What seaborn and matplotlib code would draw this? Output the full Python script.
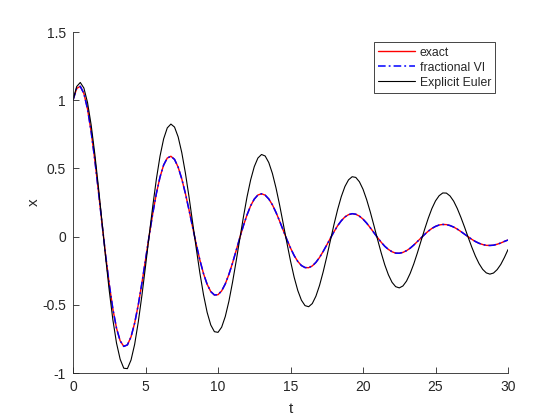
import numpy as np
import pandas as pd
import seaborn as sns
import matplotlib
matplotlib.use("Agg")
import matplotlib.pyplot as plt

# time grid, step 0.25 from 0 to 30
t = np.linspace(0, 30, 121)

# values
exact = [1.000, 1.086, 1.102, 1.049, 0.935, 0.769, 0.564, 0.334,
         0.095, -0.138, -0.351, -0.532, -0.672, -0.764, -0.805, -0.794,
         -0.735, -0.634, -0.500, -0.341, -0.169, 0.005, 0.170, 0.317,
         0.437, 0.525, 0.576, 0.589, 0.566, 0.509, 0.423, 0.316,
         0.195, 0.068, -0.057, -0.173, -0.272, -0.350, -0.403, -0.428,
         -0.426, -0.398, -0.347, -0.277, -0.194, -0.102, -0.009, 0.080,
         0.159, 0.226, 0.275, 0.305, 0.314, 0.304, 0.276, 0.233,
         0.177, 0.113, 0.045, -0.022, -0.084, -0.139, -0.182, -0.212,
         -0.227, -0.228, -0.215, -0.189, -0.153, -0.109, -0.061, -0.012,
         0.036, 0.080, 0.116, 0.144, 0.161, 0.168, 0.164, 0.150,
         0.128, 0.099, 0.065, 0.029, -0.007, -0.041, -0.071, -0.094,
         -0.111, -0.121, -0.122, -0.116, -0.103, -0.085, -0.062, -0.036,
         -0.010, 0.016, 0.040, 0.060, 0.075, 0.085, 0.089, 0.088,
         0.081, 0.070, 0.055, 0.037, 0.018, -0.001, -0.020, -0.036,
         -0.049, -0.058, -0.064, -0.065, -0.063, -0.056, -0.047, -0.035,
         -0.025]

# fractional VI lies on top of the exact solution
frac_vi = list(exact)

euler = [1.000, 1.100, 1.130, 1.089, 0.983, 0.819, 0.608, 0.365,
         0.106, -0.154, -0.398, -0.611, -0.781, -0.899, -0.965, -0.968,
         -0.905, -0.790, -0.626, -0.432, -0.217, 0.007, 0.224, 0.423,
         0.590, 0.717, 0.797, 0.825, 0.803, 0.731, 0.616, 0.466,
         0.291, 0.102, -0.088, -0.268, -0.427, -0.556, -0.648, -0.697,
         -0.702, -0.664, -0.586, -0.474, -0.335, -0.180, -0.017, 0.143,
         0.291, 0.416, 0.513, 0.576, 0.602, 0.591, 0.543, 0.463,
         0.356, 0.230, 0.093, -0.046, -0.179, -0.298, -0.395, -0.466,
         -0.506, -0.514, -0.491, -0.437, -0.358, -0.259, -0.147, -0.028,
         0.090, 0.199, 0.293, 0.367, 0.416, 0.439, 0.434, 0.402,
         0.347, 0.271, 0.181, 0.082, -0.020, -0.118, -0.207, -0.280,
         -0.335, -0.367, -0.376, -0.362, -0.326, -0.270, -0.200, -0.119,
         -0.032, 0.054, 0.135, 0.206, 0.262, 0.300, 0.320, 0.319,
         0.298, 0.260, 0.206, 0.141, 0.070, -0.005, -0.077, -0.143,
         -0.198, -0.240, -0.266, -0.275, -0.267, -0.242, -0.204, -0.153,
         -0.095]

df = pd.DataFrame({"t": t, "exact": exact, "frac": frac_vi, "euler": euler})

sns.set_style("ticks")
plt.rcParams["font.family"] = ["Liberation Sans", "DejaVu Sans"]
plt.rcParams["axes.unicode_minus"] = False

gray = "#262626"
fig = plt.figure(figsize=(5.6, 4.2), dpi=100)
ax = fig.add_axes([0.1304, 0.1119, 0.7768, 0.8119])

sns.lineplot(data=df, x="t", y="exact", ax=ax, color="red", lw=1.0, label="exact")
sns.lineplot(data=df, x="t", y="frac", ax=ax, color="blue", lw=1.1,
             linestyle=(0, (5, 2, 1.2, 2)), label="fractional VI")
sns.lineplot(data=df, x="t", y="euler", ax=ax, color="black", lw=0.8, label="Explicit Euler")

ax.set_xlim(0, 30)
ax.set_ylim(-1, 1.5)
ax.set_xticks([0, 5, 10, 15, 20, 25, 30])
ax.set_xticklabels(["0", "5", "10", "15", "20", "25", "30"])
ax.set_yticks([-1, -0.5, 0, 0.5, 1, 1.5])
ax.set_yticklabels(["-1", "-0.5", "0", "0.5", "1", "1.5"])
ax.tick_params(direction="in", length=4, width=0.6, colors=gray, labelsize=10, pad=5)
ax.set_xlabel("t", fontsize=11, color=gray, labelpad=6)
ax.set_ylabel("x", fontsize=11, color=gray, labelpad=1)
for s in ["top", "right"]:
    ax.spines[s].set_visible(False)
for s in ["left", "bottom"]:
    ax.spines[s].set_color(gray)
    ax.spines[s].set_linewidth(0.6)

leg = ax.legend(loc="upper right", bbox_to_anchor=(0.971, 0.970), borderaxespad=0,
                fontsize=8.8, handlelength=3.0, handletextpad=0.4, labelspacing=0.25,
                borderpad=0.35, fancybox=False, framealpha=1, edgecolor=gray)
leg.get_frame().set_linewidth(0.6)

fig.savefig("out.png", dpi=100)
